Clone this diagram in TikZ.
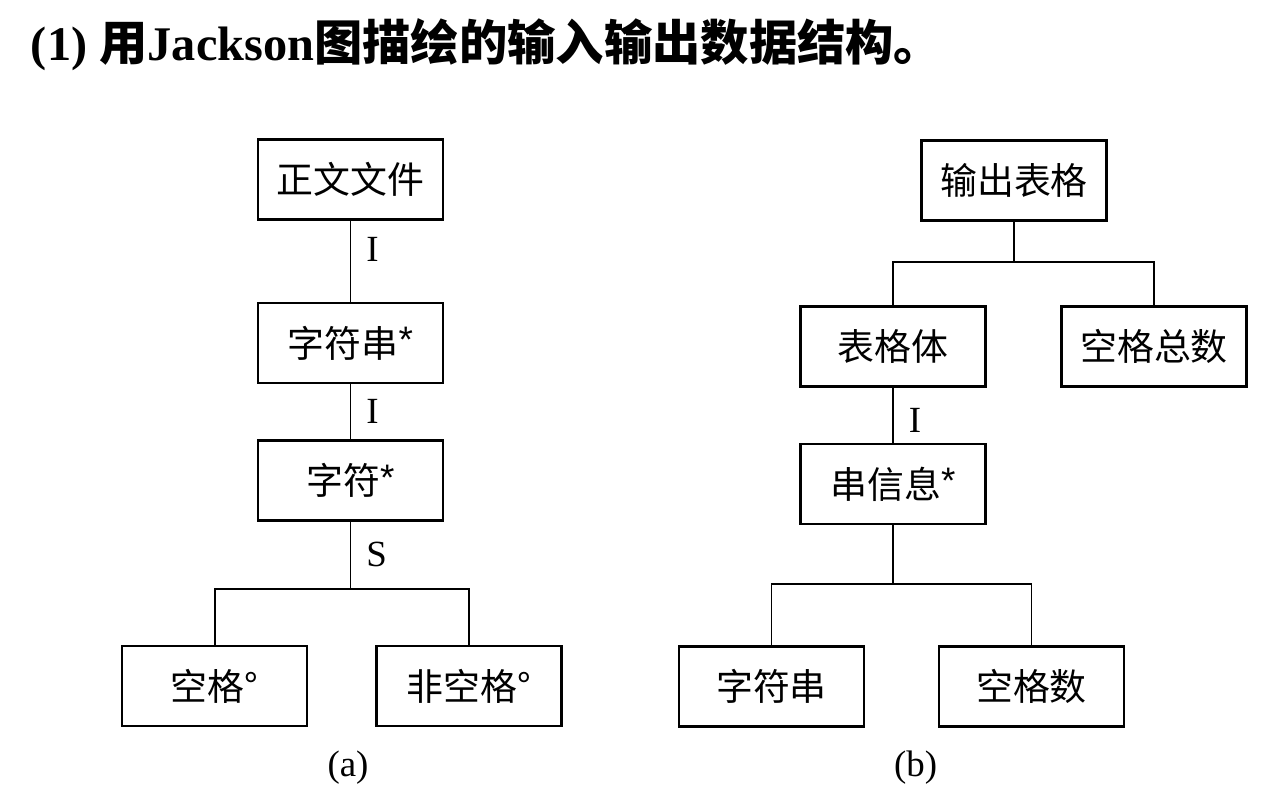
\documentclass[tikz,border=0pt]{standalone}
\usepackage{fontspec}
\setmainfont{Liberation Serif}
\newfontfamily\cjk{Noto Sans CJK SC}
\newfontfamily\lsans{Liberation Sans}
\newcommand\itr{\raisebox{.12em}{\lsans *}}

\begin{document}
\begin{tikzpicture}[x=0.02cm, y=-0.02cm, line width=1.1pt,
  box/.style={rectangle,
    draw,
    line width=1.3pt,
    minimum width = 3.7cm,
    minimum height = 1.6cm,
    inner sep=0pt,
    font=\fontsize{21}{25}\selectfont\cjk},
  lbl/.style={right=0.3cm, inner sep=0pt, font=\fontsize{21}{25}\selectfont}]

  \useasboundingbox (0,0) rectangle (1287,788);

  \node[anchor=west, inner sep=0pt, font=\fontsize{27.5}{32}\selectfont\bfseries] (title) at (30,45)
    {(1) {\cjk 用}Jackson{\cjk 图描绘的输入输出数据结构。}};

  % (a) input
  \node[box] (file) at (350.5,179.5) {正文文件};
  \node[box] (str) at (350.5,343) {字符串\itr};
  \node[box] (chr) at (350.5,480.5) {字符\itr};
  \node[box] (spc) at (214.7,686) {空格°};
  \node[box] (nspc) at (469,686) {非空格°};
  \coordinate (sa) at (350.5,589);

  \path
  (file) edge node [lbl, pos=.35] {I} (str)
  (str) edge node [lbl, pos=.5] {I} (chr)
  (chr) edge node [lbl, pos=.48] {S} (sa);
  \draw (spc.north) |- (sa) -| (nspc.north);

  \node[font=\fontsize{21}{25}\selectfont] (capa) at (348,768) {(a)};

  % (b) output
  \node[box] (out) at (1014,180.5) {输出表格};
  \node[box] (body) at (893,346.5) {表格体};
  \node[box] (total) at (1154,346.5) {空格总数};
  \node[box] (info) at (893,484) {串信息\itr};
  \node[box] (ostr) at (771.5,686.5) {字符串};
  \node[box] (ospc) at (1031.5,686.5) {空格数};
  \coordinate (sb) at (1014,262);
  \coordinate (sc) at (893,584);

  \path
  (out) edge (sb)
  (body) edge node [lbl, pos=.6] {I} (info)
  (info) edge (sc);
  \draw (body.north) |- (sb) -| (total.north);
  \draw (ostr.north) |- (sc) -| (ospc.north);

  \node[font=\fontsize{21}{25}\selectfont] (capb) at (915.7,768) {(b)};

\end{tikzpicture}
\end{document}
